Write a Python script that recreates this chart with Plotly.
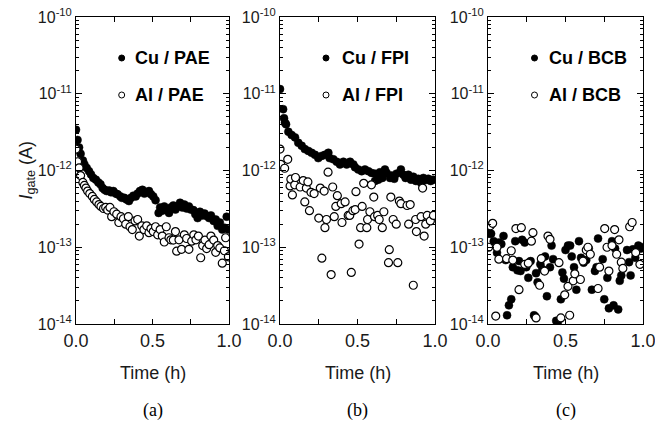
import plotly.graph_objects as go
from plotly.subplots import make_subplots

# (a) PAE
t_cu_pae = [0, 0.01, 0.02, 0.03, 0.045, 0.055, 0.07, 0.085, 0.098, 0.113, 0.13, 0.146, 0.16, 0.174, 0.187,
            0.2, 0.216, 0.229, 0.244, 0.26, 0.272, 0.29, 0.30, 0.316, 0.33, 0.346, 0.36, 0.375, 0.39, 0.403,
            0.418, 0.434, 0.447, 0.462, 0.477, 0.49, 0.505, 0.52, 0.54, 0.55, 0.564, 0.577, 0.59, 0.608, 0.62,
            0.636, 0.65, 0.665, 0.68, 0.695, 0.708, 0.723, 0.738, 0.75, 0.767, 0.78, 0.795, 0.81, 0.826, 0.84,
            0.854, 0.87, 0.882, 0.90, 0.913, 0.926, 0.94, 0.956, 0.97, 0.985, 0.996]
i_cu_pae = [3.4e-12, 2.5e-12, 2.0e-12, 1.65e-12, 1.35e-12, 1.2e-12, 1.08e-12, 9.8e-13, 8.9e-13, 8.0e-13,
            7.6e-13, 7.0e-13, 6.6e-13, 5.9e-13, 5.6e-13, 5.4e-13, 5.5e-13, 5.2e-13, 5.4e-13, 5.0e-13,
            4.9e-13, 4.6e-13, 4.4e-13, 4.4e-13, 4.2e-13, 4.0e-13, 4.4e-13, 4.7e-13, 4.6e-13, 5.0e-13,
            5.4e-13, 5.6e-13, 5.0e-13, 5.2e-13, 5.4e-13, 4.9e-13, 4.6e-13, 4.1e-13, 2.8e-13, 3.3e-13,
            3.0e-13, 3.4e-13, 3.05e-13, 2.8e-13, 3.3e-13, 3.5e-13, 3.1e-13, 3.4e-13, 3.8e-13, 3.3e-13,
            3.6e-13, 3.2e-13, 3.4e-13, 3.1e-13, 3.05e-13, 2.7e-13, 2.4e-13, 2.9e-13, 2.6e-13, 2.75e-13,
            2.55e-13, 2.4e-13, 2.6e-13, 2.2e-13, 2.3e-13, 1.9e-13, 2.1e-13, 1.7e-13, 1.8e-13, 2.5e-13, 1.7e-13]
t_al_pae = [0, 0.01, 0.02, 0.03, 0.045, 0.055, 0.065, 0.076, 0.09, 0.107, 0.12, 0.135, 0.15, 0.163, 0.18,
            0.194, 0.207, 0.222, 0.233, 0.248, 0.266, 0.28, 0.294, 0.31, 0.325, 0.342, 0.353, 0.368, 0.386,
            0.403, 0.414, 0.43, 0.444, 0.462, 0.477, 0.49, 0.505, 0.52, 0.534, 0.55, 0.564, 0.577, 0.59, 0.608,
            0.62, 0.636, 0.65, 0.658, 0.673, 0.69, 0.708, 0.723, 0.738, 0.756, 0.77, 0.784, 0.80, 0.815, 0.828,
            0.843, 0.854, 0.87, 0.882, 0.90, 0.913, 0.926, 0.94, 0.956, 0.97, 0.978, 0.996]
i_al_pae = [1.9e-12, 1.3e-12, 1.08e-12, 8.6e-13, 7.0e-13, 6.4e-13, 5.9e-13, 5.4e-13, 5.0e-13, 4.6e-13,
            4.2e-13, 3.9e-13, 3.6e-13, 3.4e-13, 3.2e-13, 3.3e-13, 3.05e-13, 3.3e-13, 2.5e-13, 2.9e-13,
            2.7e-13, 2.1e-13, 2.5e-13, 2.35e-13, 2.0e-13, 2.5e-13, 1.85e-13, 1.7e-13, 2.2e-13, 2.3e-13,
            1.4e-13, 1.9e-13, 1.7e-13, 1.9e-13, 1.55e-13, 1.75e-13, 1.6e-13, 1.85e-13, 1.45e-13, 1.7e-13,
            1.4e-13, 1.17e-13, 1.85e-13, 1.33e-13, 1.25e-13, 1.24e-13, 1.6e-13, 8.9e-14, 1.25e-13, 9.4e-14,
            1.45e-13, 1.3e-13, 9.4e-14, 1.2e-13, 1.45e-13, 1.25e-13, 1.4e-13, 7.3e-14, 1.05e-13, 1.24e-13,
            9.6e-14, 1.08e-13, 1.4e-13, 1.24e-13, 8.6e-14, 1.05e-13, 9.8e-14, 6.2e-14, 9.0e-14, 1.33e-13, 7.5e-14]

# (b) FPI
t_cu_fpi = [0, 0.02, 0.026, 0.032, 0.039, 0.054, 0.075, 0.097, 0.118, 0.14, 0.16, 0.183, 0.204, 0.226,
            0.247, 0.269, 0.29, 0.312, 0.32, 0.344, 0.366, 0.387, 0.409, 0.43, 0.452, 0.473, 0.484, 0.505,
            0.527, 0.548, 0.57, 0.591, 0.613, 0.613, 0.634, 0.645, 0.66, 0.677, 0.688, 0.71, 0.72, 0.737,
            0.752, 0.78, 0.796, 0.81, 0.828, 0.845, 0.86, 0.877, 0.892, 0.91, 0.925, 0.94, 0.957, 0.972, 0.989]
i_cu_fpi = [1.15e-11, 6.3e-12, 4.8e-12, 4.2e-12, 4.0e-12, 3.2e-12, 2.9e-12, 2.7e-12, 2.3e-12, 2.1e-12,
            1.9e-12, 1.8e-12, 1.7e-12, 1.6e-12, 1.45e-12, 1.55e-12, 1.6e-12, 1.7e-12, 1.45e-12, 1.4e-12,
            1.3e-12, 1.2e-12, 1.3e-12, 1.2e-12, 1.3e-12, 1.2e-12, 1.1e-12, 1.03e-12, 9.8e-13, 1.03e-12,
            9.8e-13, 9.3e-13, 9.1e-13, 7.3e-13, 7.6e-13, 9.5e-13, 8.0e-13, 1.03e-12, 9.3e-13, 8.0e-13,
            8.6e-13, 7.8e-13, 9.1e-13, 1.03e-12, 8.8e-13, 8.0e-13, 8.8e-13, 7.6e-13, 8.3e-13, 7.3e-13,
            7.8e-13, 6.9e-13, 8.0e-13, 7.5e-13, 7.8e-13, 7.3e-13, 7.6e-13]
t_al_fpi = [0, 0.005, 0.03, 0.05, 0.065, 0.07, 0.08, 0.095, 0.10, 0.13, 0.15, 0.16, 0.17, 0.18, 0.19,
            0.20, 0.22, 0.25, 0.26, 0.27, 0.285, 0.29, 0.30, 0.31, 0.33, 0.34, 0.35, 0.36, 0.37, 0.395,
            0.40, 0.42, 0.44, 0.45, 0.46, 0.47, 0.485, 0.49, 0.51, 0.52, 0.53, 0.54, 0.56, 0.565, 0.58,
            0.59, 0.605, 0.61, 0.63, 0.64, 0.66, 0.67, 0.70, 0.705, 0.715, 0.73, 0.75, 0.76, 0.77, 0.78,
            0.82, 0.83, 0.84, 0.86, 0.875, 0.88, 0.91, 0.92, 0.93, 0.94, 0.95, 0.97, 0.99]
i_al_fpi = [1.9e-12, 1.2e-12, 1.07e-12, 1.4e-12, 6.3e-13, 7.7e-13, 4.8e-13, 6.5e-13, 8.1e-13, 6.1e-13,
            7.4e-13, 3.9e-13, 5.9e-13, 7.1e-13, 3.0e-13, 5.2e-13, 5.0e-13, 2.4e-13, 5.9e-13, 7.2e-14,
            5.4e-13, 1.8e-13, 2.3e-13, 9.5e-13, 4.4e-14, 6.1e-13, 2.5e-13, 3.4e-13, 4.7e-13, 3.7e-13,
            2.1e-13, 3.9e-13, 2.6e-13, 2.6e-13, 4.7e-14, 3.0e-13, 3.1e-13, 5.3e-13, 1.1e-13, 1.8e-13,
            3.4e-13, 6.8e-13, 1.8e-13, 2.3e-13, 2.9e-13, 6.5e-13, 4.5e-13, 2.5e-13, 2.6e-13, 2.3e-13,
            1.8e-13, 2.9e-13, 6.3e-14, 9.3e-14, 4.5e-13, 2.3e-13, 2.0e-13, 6.3e-14, 4.0e-13, 3.7e-13,
            3.5e-13, 2.0e-13, 3.6e-13, 3.2e-14, 2.3e-13, 1.6e-13, 2.5e-13, 5.9e-13, 1.4e-13, 2.0e-13,
            2.6e-13, 2.2e-13, 2.6e-13]

# (c) BCB
t_cu_bcb = [0.006, 0.02, 0.037, 0.058, 0.071, 0.086, 0.10, 0.114, 0.123, 0.135, 0.15, 0.16, 0.176, 0.19,
            0.20, 0.21, 0.22, 0.237, 0.247, 0.26, 0.275, 0.297, 0.305, 0.31, 0.32, 0.338, 0.35, 0.368, 0.38,
            0.40, 0.41, 0.42, 0.44, 0.45, 0.47, 0.48, 0.49, 0.50, 0.516, 0.53, 0.54, 0.555, 0.57, 0.587,
            0.60, 0.617, 0.634, 0.65, 0.67, 0.69, 0.70, 0.71, 0.74, 0.75, 0.77, 0.78, 0.80, 0.81, 0.82,
            0.84, 0.85, 0.86, 0.897, 0.91, 0.92, 0.935, 0.95, 0.97, 0.985, 0.995]
i_cu_bcb = [1.5e-13, 1.5e-13, 1.2e-13, 8.5e-14, 1.15e-13, 1.1e-13, 1.4e-13, 6.8e-14, 1.3e-14, 1.75e-14,
            2.1e-14, 5.5e-14, 1.2e-13, 5.0e-14, 6.6e-14, 4.9e-14, 1.25e-13, 1.15e-13, 5.5e-14, 4.0e-14,
            6.6e-14, 1.3e-14, 1.25e-14, 4.6e-14, 3.5e-14, 6.0e-14, 5.2e-14, 7.6e-14, 2.3e-14, 5.5e-14,
            1.05e-13, 7.0e-14, 1.1e-14, 1.05e-14, 2.1e-14, 4.7e-14, 3.9e-14, 9.2e-14, 1.05e-13, 1.05e-13,
            7.6e-14, 5.5e-14, 2.8e-14, 1.2e-13, 7.3e-14, 6.3e-14, 6.8e-14, 9.6e-14, 2.8e-14, 4.9e-14,
            5.5e-14, 1.3e-13, 7.0e-14, 2.1e-14, 4.0e-14, 1.6e-14, 1.2e-13, 1.75e-14, 9.6e-14, 1.55e-14,
            3.65e-14, 4.3e-14, 9.2e-14, 6.4e-14, 4.3e-14, 9.4e-14, 7.3e-14, 1.05e-13, 9.6e-14, 1.0e-13]
t_al_bcb = [0.004, 0.015, 0.03, 0.05, 0.058, 0.07, 0.12, 0.15, 0.16, 0.18, 0.20, 0.215, 0.237, 0.26,
            0.28, 0.29, 0.31, 0.333, 0.344, 0.365, 0.387, 0.40, 0.458, 0.47, 0.495, 0.516, 0.527, 0.55,
            0.56, 0.596, 0.613, 0.634, 0.645, 0.66, 0.71, 0.72, 0.753, 0.768, 0.78, 0.80, 0.817, 0.83,
            0.845, 0.86, 0.87, 0.914, 0.93, 0.953, 0.98]
i_al_bcb = [1.0e-13, 1.9e-13, 2.05e-13, 1.27e-14, 1.0e-13, 7.0e-14, 7.1e-14, 9.0e-14, 6.8e-14, 1.75e-13,
            2.8e-14, 1.8e-13, 6.0e-14, 6.2e-14, 1.2e-13, 1.55e-13, 1.2e-14, 3.2e-14, 7.1e-14, 4.9e-14,
            1.4e-13, 1.27e-13, 6.3e-14, 1.2e-14, 2.4e-14, 3.1e-14, 1.3e-14, 3.65e-14, 4.5e-14, 3.8e-14,
            6.6e-14, 9.2e-14, 1.0e-13, 8.1e-14, 2.9e-14, 5.5e-14, 1.75e-13, 1.0e-13, 4.9e-14, 1.05e-13,
            1.7e-13, 8.1e-14, 1.25e-13, 6.4e-14, 5.3e-14, 1.85e-13, 2.1e-13, 8.5e-14, 6.0e-14]

panels = [
    ("PAE", t_cu_pae, i_cu_pae, t_al_pae, i_al_pae, "(a)"),
    ("FPI", t_cu_fpi, i_cu_fpi, t_al_fpi, i_al_fpi, "(b)"),
    ("BCB", t_cu_bcb, i_cu_bcb, t_al_bcb, i_al_bcb, "(c)"),
]

W, H = 655, 424
# plot boxes in pixels (left, right)
boxes = [(76, 229), (280, 435), (488, 643)]
top_px, bot_px = 17, 324

y_major = [1e-14, 1e-13, 1e-12, 1e-11, 1e-10]
y_labels = ["10<sup>-14</sup>", "10<sup>-13</sup>", "10<sup>-12</sup>", "10<sup>-11</sup>", "10<sup>-10</sup>"]
y_minor = [k * 10.0 ** e for e in range(-14, -10) for k in range(2, 10)]

fig = make_subplots(rows=1, cols=3)

for n, (name, tc, ic, ta, ia, tag) in enumerate(panels):
    col = n + 1
    fig.add_trace(go.Scatter(x=tc, y=ic, mode="markers", name="Cu / " + name,
                             marker=dict(symbol="circle", size=8, color="black",
                                         line=dict(color="black", width=0.5))),
                  row=1, col=col)
    fig.add_trace(go.Scatter(x=ta, y=ia, mode="markers", name="Al / " + name,
                             marker=dict(symbol="circle", size=8, color="white",
                                         line=dict(color="black", width=1.2))),
                  row=1, col=col)

    l, r = boxes[n]
    fig.update_xaxes(domain=[l / W, r / W], range=[0, 1.0],
                     tickvals=[0, 0.5, 1.0], ticktext=["0.0", "0.5", "1.0"],
                     ticks="inside", ticklen=5, tickwidth=1, tickcolor="black",
                     ticklabeloverflow="allow",
                     minor=dict(tickvals=[0.25, 0.75], ticks="inside", ticklen=5, tickcolor="black",
                                showgrid=False),
                     showline=True, linecolor="black", linewidth=1, mirror="ticks",
                     showgrid=False, zeroline=False,
                     tickfont=dict(family="Liberation Sans, Arial", size=18, color="#1a1a1a"),
                     row=1, col=col)
    fig.update_yaxes(domain=[1 - bot_px / H, 1 - top_px / H], type="log", range=[-14, -10],
                     tickvals=y_major, ticktext=y_labels,
                     ticks="inside", ticklen=6, tickwidth=1, tickcolor="black",
                     ticklabeloverflow="allow",
                     minor=dict(tickvals=y_minor, ticks="inside", ticklen=3, tickcolor="black", showgrid=False),
                     showline=True, linecolor="black", linewidth=1, mirror="ticks",
                     showgrid=False, zeroline=False,
                     tickfont=dict(family="Liberation Sans, Arial", size=16, color="#1a1a1a"),
                     row=1, col=col)

    cx = (l + r) / 2 / W
    fig.add_annotation(text="Time (h)", x=cx, y=1 - 373 / H, xref="paper", yref="paper",
                       showarrow=False, xanchor="center", yanchor="middle",
                       font=dict(family="Liberation Sans, Arial", size=18, color="#1a1a1a"))
    fig.add_annotation(text=tag, x=cx, y=1 - 410 / H, xref="paper", yref="paper",
                       showarrow=False, xanchor="center", yanchor="middle",
                       font=dict(family="Liberation Serif, Times New Roman", size=18, color="black"))

# in-plot legends: marker dot + bold label
legend_pos = [(121.7, 133), (326, 340), (534.5, 546.7)]
for n, (name, *_rest) in enumerate(panels):
    mx, tx = legend_pos[n]
    for row_y, metal, fill in [(58, "Cu", "black"), (95, "Al", "white")]:
        fig.add_shape(type="circle", xref="paper", yref="paper",
                      x0=(mx - 3) / W, x1=(mx + 3) / W, y0=1 - (row_y + 3) / H, y1=1 - (row_y - 3) / H,
                      fillcolor=fill, line=dict(color="black", width=1))
        fig.add_annotation(text="<b>%s / %s</b>" % (metal, name), x=tx / W, y=1 - row_y / H,
                           xref="paper", yref="paper", showarrow=False,
                           xanchor="left", yanchor="middle",
                           font=dict(family="Liberation Sans, Arial", size=18, color="black"))

fig.add_annotation(text="<i>I</i><sub>gate</sub> (A)", x=27 / W, y=1 - 170.5 / H,
                   xref="paper", yref="paper", showarrow=False, textangle=-90,
                   xanchor="center", yanchor="middle",
                   font=dict(family="Liberation Sans, Arial", size=18, color="#1a1a1a"))

# start small enough to fit inside the default 8px page margin (no scrollbars),
# then pin the plot to the window corner and grow it to the full window size
fig.update_layout(template="none", width=W - 16, height=H - 16, showlegend=False,
                  margin=dict(l=0, r=0, t=0, b=0),
                  paper_bgcolor="white", plot_bgcolor="white")

fig.write_html("out.html", config={"displayModeBar": False},
               post_script="document.body.style.margin='0';"
                           "document.documentElement.style.overflow='hidden';"
                           "document.body.style.overflow='hidden';"
                           "var gd = document.getElementById('{plot_id}');"
                           "gd.style.position='fixed'; gd.style.left='0px'; gd.style.top='0px';"
                           "Plotly.relayout(gd, {width: %d, height: %d});" % (W, H))
